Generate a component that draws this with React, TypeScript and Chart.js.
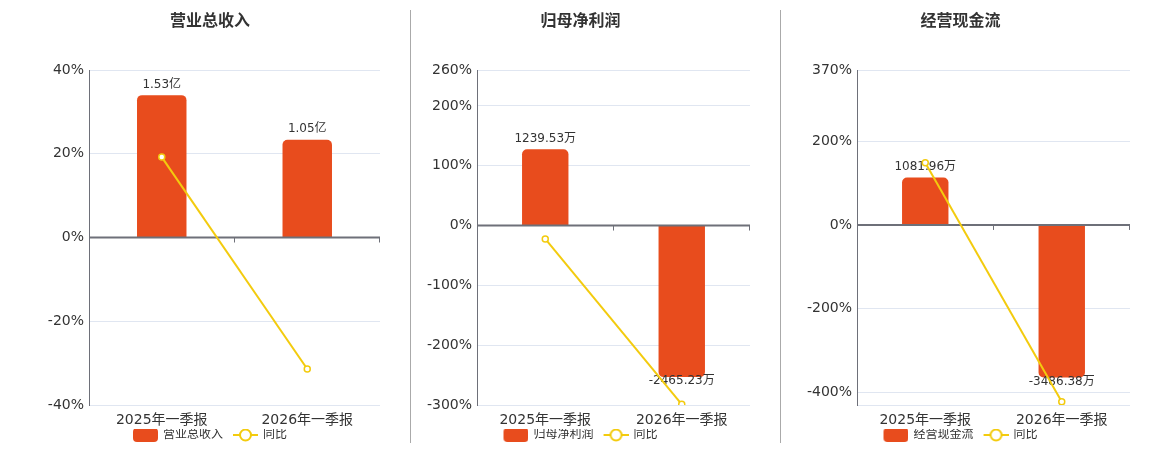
import { useEffect, useRef } from "react";
import { Chart, registerables } from "chart.js";

Chart.register(...registerables);

const categories = ["2025年一季报", "2026年一季报"];

// 营业总收入 (亿) and its yoy %
const revenueValues = [1.53, 1.05];
const revenueYoy = [19.2, -31.4];
const revenueTicks = [-40, -20, 0, 20, 40];

// 归母净利润 (万)
const profitValues = [1239.53, -2465.23];
const profitYoy = [-22.3, -298.9];
const profitTicks = [-300, -200, -100, 0, 100, 200, 260];

// 经营现金流 (万)
const cashValues = [1081.96, -3486.38];
const cashYoy = [148.6, -422.5];
const cashTicks = [-400, -200, 0, 200, 370];

const FONT = '"DejaVu Sans", "Noto Sans CJK SC", sans-serif';
const BAR = "#E84C1D";
const LINE = "#F3CB0E";
const AXIS = "#6E7079";
const GRID = "#E0E6F1";
const TEXT = "#333";

Chart.defaults.font.family = FONT;

type PanelProps = {
    title: string;
    values: number[];
    yoy: number[];
    ticks: number[];
    min: number;
    max: number;
    unit: string;
    barScale: number;
    left: number;
    width: number;
    axisWidth: number;
};

const panels: PanelProps[] = [
    { title: "营业总收入", values: revenueValues, yoy: revenueYoy, ticks: revenueTicks, min: -40, max: 40, unit: "亿", barScale: 0.045, left: 40, width: 341, axisWidth: 49 },
    { title: "归母净利润", values: profitValues, yoy: profitYoy, ticks: profitTicks, min: -300, max: 260, unit: "万", barScale: 9.73, left: 411, width: 340, axisWidth: 66 },
    { title: "经营现金流", values: cashValues, yoy: cashYoy, ticks: cashTicks, min: -430, max: 370, unit: "万", barScale: 9.565, left: 791, width: 340, axisWidth: 66 },
];

// legend icons: 36 wide, mark drawn in the right 25px
function barIcon() {
    const c = document.createElement("canvas");
    c.width = 36;
    c.height = 14;
    const g = c.getContext("2d")!;
    g.fillStyle = BAR;
    g.beginPath();
    g.roundRect(11, 0, 25, 14, 4);
    g.fill();
    return c;
}

function lineIcon() {
    const c = document.createElement("canvas");
    c.width = 36;
    c.height = 16;
    const g = c.getContext("2d")!;
    g.strokeStyle = LINE;
    g.lineWidth = 2;
    g.beginPath();
    g.moveTo(11, 8);
    g.lineTo(36, 8);
    g.stroke();
    g.fillStyle = "#fff";
    g.beginPath();
    g.arc(23.5, 8, 5.5, 0, Math.PI * 2);
    g.fill();
    g.stroke();
    return c;
}

// zero axis line with category ticks + value labels, drawn between bars and line
const decorPlugin = {
    id: "decor",
    afterLayout(chart: any) {
        const lg = chart.legend;
        if (lg) {
            lg.left -= 5;
            lg.right -= 5;
            lg.top += 1;
            lg.bottom += 1;
        }
    },
    afterDatasetDraw(chart: any, args: any, opts: any) {
        if (args.index !== 0) return;
        const { ctx, chartArea, scales } = chart;
        const y0 = scales.y.getPixelForValue(0);
        ctx.save();
        ctx.strokeStyle = AXIS;
        ctx.lineWidth = 2;
        ctx.beginPath();
        ctx.moveTo(chartArea.left, y0);
        ctx.lineTo(chartArea.right, y0);
        ctx.stroke();
        ctx.lineWidth = 1;
        const n = chart.data.labels.length;
        for (let i = 0; i < n; i++) {
            const x = Math.round(scales.x.getPixelForValue(i + 0.5)) - 0.5;
            ctx.beginPath();
            ctx.moveTo(x, y0);
            ctx.lineTo(x, y0 + 5);
            ctx.stroke();
        }
        const data = chart.data.datasets[0].data as number[];
        ctx.font = `12px ${FONT}`;
        ctx.fillStyle = TEXT;
        ctx.textAlign = "center";
        ctx.textBaseline = "middle";
        args.meta.data.forEach((bar: any, i: number) => {
            const v = data[i];
            const y = v >= 0 ? bar.y - 10.5 : bar.y + 4;
            ctx.fillText(v.toFixed(2) + opts.unit, bar.x, y);
        });
        ctx.restore();
    },
};

const Panel: React.FC<PanelProps> = (p) => {
    const chartRef = useRef<HTMLCanvasElement>(null);

    useEffect(() => {
        if (!chartRef.current) return;
        const ctx = chartRef.current.getContext("2d");
        if (!ctx) return;
        const icons = [barIcon(), lineIcon()];

        const chart = new Chart(ctx, {
            type: "bar",
            data: {
                labels: categories,
                datasets: [
                    {
                        type: "bar",
                        label: p.title,
                        data: p.values,
                        yAxisID: "y1",
                        backgroundColor: BAR,
                        borderRadius: 5,
                        borderSkipped: "start",
                        barPercentage: 0.34,
                        categoryPercentage: 1,
                        order: 1,
                    },
                    {
                        type: "line",
                        label: "同比",
                        data: p.yoy,
                        yAxisID: "y",
                        borderColor: LINE,
                        borderWidth: 2,
                        pointRadius: 3,
                        pointBorderWidth: 1.5,
                        pointBackgroundColor: "#fff",
                        pointBorderColor: LINE,
                        order: 0,
                    },
                ],
            } as any,
            options: {
                responsive: false,
                animation: false,
                layout: { autoPadding: false, padding: { left: 0, right: 1, top: 0, bottom: 0 } },
                plugins: {
                    title: {
                        display: true,
                        text: p.title,
                        color: TEXT,
                        font: { size: 16, weight: "bold" },
                        padding: { top: 12, bottom: 38.8 },
                    },
                    legend: {
                        position: "bottom",
                        labels: {
                            usePointStyle: true,
                            pointStyleWidth: 34,
                            padding: 0,
                            color: TEXT,
                            font: { size: 12 },
                            generateLabels: (c: any) =>
                                c.data.datasets.map((ds: any, i: number) => ({
                                    text: ds.label,
                                    pointStyle: icons[i],
                                    datasetIndex: i,
                                    fontColor: TEXT,
                                    fillStyle: "transparent",
                                    strokeStyle: "transparent",
                                    lineWidth: 0,
                                    hidden: false,
                                })),
                        },
                    },
                    tooltip: { enabled: false },
                    decor: { unit: p.unit },
                } as any,
                scales: {
                    x: {
                        grid: { display: false, drawTicks: false },
                        border: { display: false },
                        ticks: { color: TEXT, font: { size: 14, lineHeight: "16px" }, padding: 7 },
                        afterFit: (scale: any) => {
                            scale.height = 23;
                        },
                    },
                    y: {
                        position: "left",
                        min: p.min,
                        max: p.max,
                        afterBuildTicks: (scale: any) => {
                            const vals = Array.from(new Set([p.min, ...p.ticks, p.max]));
                            scale.ticks = vals.sort((a, b) => a - b).map((v) => ({ value: v }));
                        },
                        afterFit: (scale: any) => {
                            scale.width = p.axisWidth;
                        },
                        ticks: {
                            color: TEXT,
                            font: { size: 14 },
                            padding: 5,
                            callback: (v: any) => (p.ticks.includes(v) ? `${v}%` : ""),
                        },
                        grid: {
                            drawTicks: false,
                            color: (c: any) => (c.tick && c.tick.value === 0 ? "transparent" : GRID),
                        },
                        border: { color: AXIS, width: 1 },
                    },
                    y1: {
                        display: false,
                        min: p.min * p.barScale,
                        max: p.max * p.barScale,
                    },
                },
            },
            plugins: [decorPlugin],
        });

        return () => {
            chart.destroy();
        };
    }, []);

    return (
        <canvas
            ref={chartRef}
            width={p.width}
            height={450}
            style={{ position: "absolute", left: p.left, top: 0, width: p.width, height: 450 }}
        ></canvas>
    );
};

const App: React.FC = () => {
    return (
        <div style={{ position: "absolute", left: 0, top: 0, width: 1160, height: 450, background: "#fff" }}>
            {panels.map((p) => (
                <Panel key={p.title} {...p} />
            ))}
            <div style={{ position: "absolute", left: 410, top: 10, width: 1, height: 433, background: "#aaa" }}></div>
            <div style={{ position: "absolute", left: 780, top: 10, width: 1, height: 433, background: "#aaa" }}></div>
        </div>
    );
};

export default App;
